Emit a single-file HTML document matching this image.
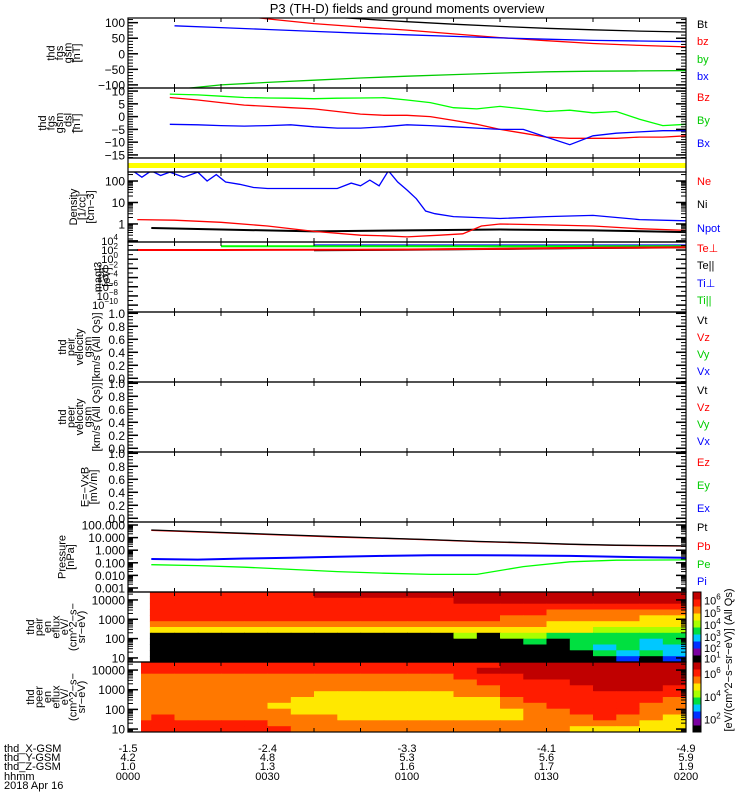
<!DOCTYPE html>
<html><head><meta charset="utf-8"><style>
html,body{margin:0;padding:0;background:#fff}
svg{display:block;font-family:"Liberation Sans",sans-serif}
</style></head><body>
<svg id="chart" width="750" height="800" viewBox="0 0 750 800" xmlns="http://www.w3.org/2000/svg">
<rect x="0" y="0" width="750" height="800" fill="#fff"/>
<text x="407" y="13" font-size="13" text-anchor="middle">P3 (TH-D) fields and ground moments overview</text>
<g id="layer"></g>
</svg>
<script>
// ---------- data ----------
const tickTimes = [0,30,60,90,120];
const xGsm = ["-1.5","-2.4","-3.3","-4.1","-4.9"];
const yGsm = ["4.2","4.8","5.3","5.6","5.9"];
const zGsm = ["1.0","1.3","1.6","1.7","1.9"];
const hhmm = ["0000","0030","0100","0130","0200"];

const fgsT = [10,20,30,40,50,60,70,80,90,100,110,120];
const fgsBt = [160,145,132,122,112,103,95,88,82,77,73,70];
const fgsBz = [150,130,112,97,86,76,64,52,42,33,27,22];
const fgsBy = [-115,-100,-92,-85,-78,-72,-67,-62,-58,-56,-55,-54];
const fgsBx = [90,84,78,72,66,61,56,51,47,43,41,39];

const dslT = [9,15,20,25,30,35,40,45,50,55,60,65,70,75,80,85,90,95,100,105,110,115,120];
const dslBz = [7.5,6.5,5.5,4.5,4,3.5,3,2,1,0.5,0.5,0,-1.5,-3,-5,-6.5,-8,-8.5,-8.5,-8.5,-8,-8,-7.5];
const dslBy = [8.8,8.5,8,7.5,7.3,7.2,7,7.2,7.3,7.4,6.5,5.5,3.5,3,4,3,2,2.5,1.5,2,-1,-3.5,-3];
const dslBx = [-3,-3.2,-3.5,-3.7,-3.5,-3.2,-4,-4.5,-4.5,-4,-3.2,-3.5,-4,-4.5,-5,-5,-8,-11,-7.5,-6.5,-6,-5.5,-5.5];

const npotT = [1,3,5,7,9,12,15,17,19,21,24,27,30,35,40,45,48,50,52,54,56,58,60,62,64,66,70,80,90,100,110,120];
const npotV = [300,150,300,180,260,150,260,100,200,90,70,50,45,45,45,45,80,60,110,60,300,90,38,15,4,3,2.2,1.8,2.2,2.5,1.6,1.4];
const neT = [2,10,20,30,40,50,55,60,67,72,76,80,90,100,110,120];
const neV = [1.6,1.5,1.2,0.8,0.45,0.3,0.28,0.25,0.3,0.35,0.8,1.0,0.9,0.8,0.6,0.5];
const niT = [5,20,40,60,80,100,120];
const niV = [0.65,0.55,0.45,0.5,0.55,0.5,0.42];

const tempT = [2,20,40,60,80,100,120];
const teperp = [100,100,110,130,200,300,400];
const tipar = [0,700,700,700,700,700,700];
const tiperp = [0,0,1000,1000,1000,1000,1000];
const tepar = [0,0,90,120,180,280,380];

const presT = [5,15,25,35,45,55,65,75,85,95,105,120];
const presPt = [40,30,22,16,12,9,7,5,4,3,2.5,2.2];
const presPb = [38,28,21,15,11,8.6,6.7,4.8,3.8,2.9,2.4,2.1];
const presPe = [0.2,0.18,0.22,0.25,0.3,0.35,0.4,0.4,0.38,0.35,0.3,0.25];
const presPi = [0.07,0.06,0.045,0.03,0.02,0.015,0.012,0.012,0.05,0.12,0.16,0.17];

// spectrogram colour levels (rows top->bottom energy, cols 5-min bins)
const peirRows = [
"888888889999999999999999",
"888888888888889999999999",
"888888888888888888888888",
"888888888888888888777777",
"888888888888888877777766",
"777777777777777777666666",
"666666666666666666665555",
"000000000000005055444444",
"000000000000000004044434",
"000000000000000000043433",
"000000000000000000004343",
"000000000000000000000202"];
const peerRows = [
"888888888888888899999999",
"888888888888888999999999",
"777777777777778889999999",
"777777777777777888899999",
"777777777777777788889998",
"777777776666667788888888",
"777777766666666678888887",
"777777666666666677888877",
"777777766666666667788877",
"787777777666666667778776",
"888888777777777777777766",
"888888877777777777766666"];

// ---------- helpers ----------
const NS="http://www.w3.org/2000/svg";
const layer=document.getElementById('layer');
const X0=128,X1=686;
const tx=t=>X0+(t/120)*(X1-X0);
function mk(tag,attrs,parent){const e=document.createElementNS(NS,tag);for(const k in attrs)e.setAttribute(k,attrs[k]);(parent||layer).appendChild(e);return e;}
const palette=['#000000','#7a00a0','#0030ff','#00c8ff','#00e040','#a8ff00','#ffe800','#ff7800','#ff1c00','#c00000'];

const panels=[
 {id:'fgs',top:18,bot:88,log:false,min:-110,max:115},
 {id:'fgs-dsl',top:88,bot:158,log:false,min:-16.2,max:11.2},
 {id:'flag',top:158,bot:172,log:false,min:0,max:1},
 {id:'density',top:172,bot:242,log:true,min:-0.84,max:2.42},
 {id:'magt3',top:242,bot:312,log:true,min:-11.5,max:3.75},
 {id:'peir-velocity',top:312,bot:382,log:false,min:-0.057,max:1.02},
 {id:'peer-velocity',top:382,bot:452,log:false,min:-0.057,max:1.02},
 {id:'efield',top:452,bot:522,log:false,min:-0.057,max:1.02},
 {id:'pressure',top:522,bot:592,log:true,min:-3.32,max:2.24},
 {id:'peir-spec',top:592,bot:662,log:true,min:0.79,max:4.41},
 {id:'peer-spec',top:662,bot:732,log:true,min:0.85,max:4.41}
];
panels.forEach(p=>{p.y=v=>{const u=p.log?Math.log10(Math.max(v,1e-30)):v;return p.bot-(u-p.min)/(p.max-p.min)*(p.bot-p.top);};});
const P={};panels.forEach(p=>P[p.id]=p);

const defs=mk('defs',{});
panels.forEach(p=>{const c=mk('clipPath',{id:'clip-'+p.id},defs);mk('rect',{x:X0,y:p.top,width:X1-X0,height:p.bot-p.top},c);});

function series(p,ts,vs,color,name,w){
  let d='';
  for(let i=0;i<ts.length;i++){
    if(vs[i]<=0&&p.log) continue;
    const x=tx(ts[i]),y=p.y(vs[i]);
    if(d===''){d='M'+x.toFixed(1)+' '+y.toFixed(1);}
    else{d+=' L'+x.toFixed(1)+' '+y.toFixed(1);}
  }
  const e=mk('path',{d:d,fill:'none',stroke:color,'stroke-width':w||1.3,'clip-path':'url(#clip-'+p.id+')'});
  
  
}

// ---------- spectrograms ----------
function spec(p,rows,tStart,name){
  const g=mk('g',{'clip-path':'url(#clip-'+p.id+')'});
  
  
  mk('rect',{x:X0,y:p.top,width:X1-X0,height:p.bot-p.top,fill:'#fff'},g);
  const nR=rows.length,nC=rows[0].length;
  const span=(p.max-p.min)/nR;
  for(let r=0;r<nR;r++){
    const eHi=Math.pow(10,p.max-r*span),eLo=Math.pow(10,p.max-(r+1)*span);
    for(let c=0;c<nC;c++){
      const t0=Math.max(c*5,tStart),t1=(c+1)*5;
      if(t1<=t0)continue;
      const lv=+rows[r][c];
      const y0=p.y(eHi),y1=p.y(eLo);
      mk('rect',{x:tx(t0).toFixed(1),y:y0.toFixed(1),width:(tx(t1)-tx(t0)+0.5).toFixed(1),height:(y1-y0+0.5).toFixed(1),fill:palette[lv]},g);
    }
  }
}
spec(P['peir-spec'],peirRows,4.7,'peir-spectrogram');
spec(P['peer-spec'],peerRows,2.8,'peer-spectrogram');

const fb=mk('rect',{x:X0,y:163,width:X1-X0,height:5,fill:'#ffff00'});


// ---------- series ----------
series(P['fgs'],fgsT,fgsBt,'#000','bt-line');
series(P['fgs'],fgsT,fgsBz,'#f00','bz-line');
series(P['fgs'],fgsT,fgsBy,'#0c0','by-line');
series(P['fgs'],fgsT,fgsBx,'#00f','bx-line');
series(P['fgs-dsl'],dslT,dslBy,'#0f0','dsl-by-line');
series(P['fgs-dsl'],dslT,dslBz,'#f00','dsl-bz-line');
series(P['fgs-dsl'],dslT,dslBx,'#00f','dsl-bx-line');
series(P['density'],npotT,npotV,'#00f','npot-line');
series(P['density'],niT,niV,'#000','ni-line',2);
series(P['density'],neT,neV,'#f00','ne-line');
series(P['magt3'],tempT,tiperp,'#00f','ti-perp-line',2);
series(P['magt3'],tempT,tipar,'#0f0','ti-par-line',2);
series(P['magt3'],tempT,tepar,'#000','te-par-line',2);
series(P['magt3'],tempT,teperp,'#f00','te-perp-line',2);
series(P['pressure'],presT,presPb,'#f00','pb-line');
series(P['pressure'],presT,presPt,'#000','pt-line');
series(P['pressure'],presT,presPe,'#00f','pe-line',2);
series(P['pressure'],presT,presPi,'#0f0','pi-line');

// ---------- axes ----------
const tickDefs={
 'fgs':{maj:[-100,-50,0,50,100],lab:['\u2212100','\u221250','0','50','100'],minStep:10},
 'fgs-dsl':{maj:[-15,-10,-5,0,5,10],lab:['\u221215','\u221210','\u22125','0','5','10'],minStep:1},
 'density':{maj:[1,10,100],lab:['1','10','100']},
 'magt3':{maj:[1e-10,1e-8,1e-6,1e-4,1e-2,1,1e2,1e4],exp:['\u221210','\u22128','\u22126','\u22124','\u22122','0','2','4']},
 'peir-velocity':{maj:[0,0.2,0.4,0.6,0.8,1],lab:['0.0','0.2','0.4','0.6','0.8','1.0'],minStep:0.05},
 'peer-velocity':{maj:[0,0.2,0.4,0.6,0.8,1],lab:['0.0','0.2','0.4','0.6','0.8','1.0'],minStep:0.05},
 'efield':{maj:[0,0.2,0.4,0.6,0.8,1],lab:['0.0','0.2','0.4','0.6','0.8','1.0'],minStep:0.05},
 'pressure':{maj:[0.001,0.01,0.1,1,10,100],lab:['0.001','0.010','0.100','1.000','10.000','100.000']},
 'peir-spec':{maj:[10,100,1000,10000],lab:['10','100','1000','10000']},
 'peer-spec':{maj:[10,100,1000,10000],lab:['10','100','1000','10000']}
};
panels.forEach(p=>{
  const fr=mk('rect',{x:X0,y:p.top,width:X1-X0,height:p.bot-p.top,fill:'none',stroke:'#000','stroke-width':1.2});
  
  for(let t=10;t<120;t+=10){
    mk('line',{x1:tx(t),x2:tx(t),y1:p.top,y2:p.top+4,stroke:'#000'});
    mk('line',{x1:tx(t),x2:tx(t),y1:p.bot,y2:p.bot-4,stroke:'#000'});
  }
  const td=tickDefs[p.id]; if(!td) return;
  const ga=mk('g',{});
  
  let minors=[];
  if(p.log){
    if(p.id==='magt3'){for(let d=-11;d<=3;d++)minors.push(Math.pow(10,d));}
    else for(let d=Math.floor(p.min);d<Math.ceil(p.max);d++){
      for(let k=2;k<=9;k++){const v=k*Math.pow(10,d);const lv=Math.log10(v);if(lv>p.min&&lv<p.max)minors.push(v);}
    }
  } else {
    const s=td.minStep;for(let v=Math.ceil(p.min/s)*s;v<=p.max;v+=s)minors.push(v);
  }
  minors.forEach(v=>{const y=p.y(v);if(y<p.top||y>p.bot)return;
    mk('line',{x1:X0,x2:X0+5,y1:y,y2:y,stroke:'#000'},ga);mk('line',{x1:X1,x2:X1-5,y1:y,y2:y,stroke:'#000'},ga);});
  td.maj.forEach((v,i)=>{const y=p.y(v);
    mk('line',{x1:X0,x2:X0+10,y1:y,y2:y,stroke:'#000','stroke-width':1.5},ga);
    mk('line',{x1:X1,x2:X1-10,y1:y,y2:y,stroke:'#000','stroke-width':1.5},ga);
    if(td.exp){
      const t=mk('text',{x:X0-10,y:y+4,'font-size':11,'text-anchor':'end'},ga);
      t.textContent='10';
      const s=mk('tspan',{dy:-5,'font-size':8},t);s.textContent=td.exp[i];
    } else {
      const t=mk('text',{x:X0-3,y:y+4.5,'font-size':12,'text-anchor':'end'},ga);t.textContent=td.lab[i];
    }
  });
});

// ---------- left labels ----------
const leftLabels=[
 ['fgs',['thd','fgs','gsm','[nT]'],80],
 ['fgs-dsl',['thd','fgs','gsm','_dsl','[nT]'],80],
 ['density',['Density','[1/cc]','[cm\u22123]'],94],
 ['magt3',['magt3','[eV]'],110],
 ['peir-velocity',['thd','peir','velocity','gsm','[km/s (All Qs)]'],100],
 ['peer-velocity',['thd','peer','velocity','gsm','[km/s (All Qs)]'],100],
 ['efield',['E=\u2212VxB','[mV/m]'],97],
 ['pressure',['Pressure','[nPa]'],74],
 ['peir-spec',['thd','peir','en','eflux','eV/','(cm^2\u2212s\u2212','sr\u2212eV)'],85],
 ['peer-spec',['thd','peer','en','eflux','eV/','(cm^2\u2212s\u2212','sr\u2212eV)'],85]
];
leftLabels.forEach(([id,lines,lastX])=>{
  const p=P[id];const cy=(p.top+p.bot)/2;const sp=8.5;
  const fx=lastX-(lines.length-1)*sp;
  const t=mk('text',{'font-size':11,'text-anchor':'middle',transform:'translate('+fx+','+cy+') rotate(-90)'});
  
  lines.forEach((l,i)=>{const s=mk('tspan',{x:0,dy:i===0?0:sp},t);s.textContent=l;});
});

// ---------- right legends ----------
const legends=[
 ['Bt','#000',24],['bz','#f00',41],['by','#0c0',59],['bx','#00f',76],
 ['Bz','#f00',97],['By','#0c0',120],['Bx','#00f',143],
 ['Ne','#f00',181],['Ni','#000',204],['Npot','#00f',228],
 ['Te\u22a5','#f00',248],['Te||','#000',265],['Ti\u22a5','#00f',283],['Ti||','#0c0',300],
 ['Vt','#000',320],['Vz','#f00',337],['Vy','#0c0',354],['Vx','#00f',371],
 ['Vt','#000',390],['Vz','#f00',407],['Vy','#0c0',424],['Vx','#00f',441],
 ['Ez','#f00',462],['Ey','#0c0',485],['Ex','#00f',508],
 ['Pt','#000',527],['Pb','#f00',546],['Pe','#0c0',564],['Pi','#00f',581]
];
legends.forEach(([s,c,y])=>{
  const t=mk('text',{x:697,y:y+4,'font-size':11,fill:c});t.textContent=s;
  
  
});

// ---------- colorbars ----------
function cbar(p,labels,name){
  const g=mk('g',{});
  const n=palette.length;const h=(p.bot-p.top)/n;
  for(let i=0;i<n;i++){mk('rect',{x:693,y:(p.bot-(i+1)*h).toFixed(1),width:8,height:(h+0.5).toFixed(1),fill:palette[i]},g);}
  mk('rect',{x:693,y:p.top,width:8,height:p.bot-p.top,fill:'none',stroke:'#000'},g);
  labels.forEach(([e,f])=>{const y=p.bot-f*(p.bot-p.top);
    const t=mk('text',{x:704,y:y+4,'font-size':11},g);t.textContent='10';
    const s=mk('tspan',{dy:-5,'font-size':8},t);s.textContent=e;});
}
cbar(P['peir-spec'],[['1',0.05],['2',0.2],['3',0.36],['4',0.53],['5',0.7],['6',0.88]],'peir-colorbar');
cbar(P['peer-spec'],[['2',0.18],['4',0.5],['6',0.83]],'peer-colorbar');
const cl=mk('text',{'font-size':11,'text-anchor':'middle',transform:'translate(732,660) rotate(-90)'});
cl.textContent='[eV/(cm^2\u2212s\u2212sr\u2212eV)] (All Qs)';


// ---------- bottom annotation ----------
const rowsB=[['thd_X-GSM',xGsm,748],['thd_Y-GSM',yGsm,757],['thd_Z-GSM',zGsm,766],['hhmm',hhmm,776]];
rowsB.forEach(([lab,vals,y])=>{
  const t=mk('text',{x:4,y:y+4,'font-size':11});t.textContent=lab;
  
  vals.forEach((v,i)=>{const e=mk('text',{x:tx(tickTimes[i]),y:y+4,'font-size':11,'text-anchor':'middle'});e.textContent=v;
    });
});
const dt=mk('text',{x:4,y:789,'font-size':11});dt.textContent='2018 Apr 16';

</script>
</body></html>
